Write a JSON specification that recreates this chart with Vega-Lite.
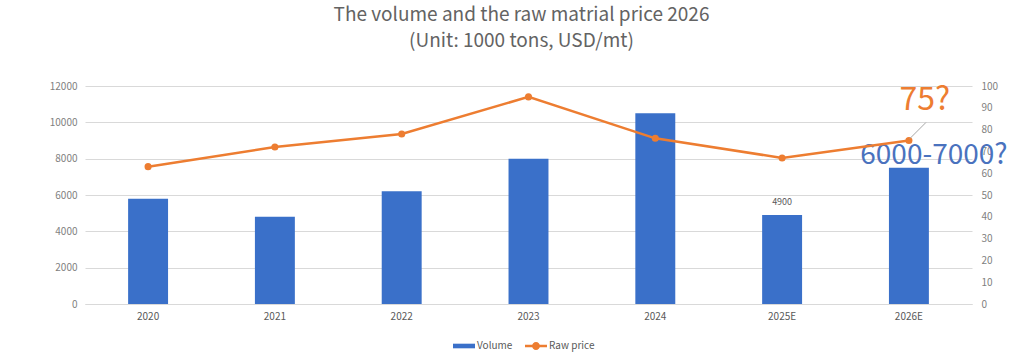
{
  "$schema": "https://vega.github.io/schema/vega-lite/v6.json",
  "width": 887,
  "height": 218,
  "autosize": {"type": "none"},
  "padding": {"left": 85, "top": 86, "right": 52, "bottom": 51},
  "background": "white",
  "config": {
    "font": "Noto Sans CJK SC",
    "view": {"stroke": null},
    "axis": {"labelFont": "Noto Sans CJK SC", "labelFontSize": 10, "labelColor": "#7f7f7f"}
  },
  "title": {
    "text": ["The volume and the raw matrial price 2026", "(Unit: 1000 tons, USD/mt)"],
    "anchor": "middle",
    "dx": -7,
    "offset": 30,
    "fontSize": 19,
    "lineHeight": 26,
    "fontWeight": "normal",
    "color": "#636363",
    "font": "Noto Sans CJK SC"
  },
  "data": {
    "values": [
      {"year": "2020", "volume": 5800, "price": 63},
      {"year": "2021", "volume": 4800, "price": 72},
      {"year": "2022", "volume": 6200, "price": 78},
      {"year": "2023", "volume": 8000, "price": 95},
      {"year": "2024", "volume": 10500, "price": 76},
      {"year": "2025E", "volume": 4900, "price": 67},
      {"year": "2026E", "volume": 7500, "price": 75}
    ]
  },
  "encoding": {
    "x": {
      "field": "year",
      "type": "nominal",
      "sort": null,
      "scale": {"paddingInner": 0.685, "paddingOuter": 0.34},
      "axis": {"title": null, "labelAngle": 0, "ticks": false, "domainColor": "#d9d9d9", "labelColor": "#595959", "labelPadding": 7}
    }
  },
  "layer": [
    {
      "encoding": {
        "y": {
          "field": "volume",
          "type": "quantitative",
          "scale": {"domain": [0, 12000], "nice": false},
          "axis": {"title": null, "values": [0, 2000, 4000, 6000, 8000, 10000, 12000], "format": "d", "grid": true, "gridColor": "#d9d9d9", "domain": false, "ticks": false, "labelPadding": 8}
        }
      },
      "layer": [
        {
          "mark": {"type": "bar", "color": "#3A70C9"},
          "encoding": {
            "color": {
              "datum": "Volume",
              "scale": {"domain": ["Volume", "Raw price"], "range": ["#3A70C9", "#ED7D31"]},
              "legend": {
                "title": null,
                "orient": "none",
                "direction": "horizontal",
                "legendX": 368,
                "legendY": 249,
                "symbolSize": 484,
                "labelFontSize": 10,
                "labelColor": "#595959",
                "labelFont": "Noto Sans CJK SC",
                "labelOffset": 2,
                "columnPadding": 12,
                "encode": {
                  "symbols": {
                    "update": {
                      "shape": [
                        {"test": "datum.value === 'Volume'", "value": "M-1,-0.21L1,-0.21L1,0.21L-1,0.21Z"},
                        {"value": "M-1,-0.12L-0.3,-0.12L-0.3,0.12L-1,0.12Z M0.3,-0.12L1,-0.12L1,0.12L0.3,0.12Z M-0.36,0A0.36,0.36 0 1,1 0.36,0A0.36,0.36 0 1,1 -0.36,0Z"}
                      ],
                      "fill": {"scale": "color", "field": "value"},
                      "fillOpacity": {"value": 1},
                      "strokeWidth": {"value": 0},
                      "opacity": {"value": 1}
                    }
                  }
                }
              }
            }
          }
        },
        {
          "transform": [{"filter": "datum.year === '2025E'"}],
          "mark": {"type": "text", "dy": -8, "baseline": "bottom", "fontSize": 9, "color": "#595959"},
          "encoding": {"text": {"field": "volume", "type": "quantitative", "format": "d"}}
        },
        {
          "transform": [{"filter": "datum.year === '2026E'"}],
          "mark": {"type": "text", "dx": 25, "dy": -4, "baseline": "alphabetic", "align": "center", "fontSize": 28, "color": "#4A72BE"},
          "encoding": {"text": {"value": "6000-7000?"}}
        }
      ]
    },
    {
      "encoding": {
        "y": {
          "field": "price",
          "type": "quantitative",
          "scale": {"domain": [0, 100], "nice": false},
          "axis": {"title": null, "orient": "right", "values": [0, 10, 20, 30, 40, 50, 60, 70, 80, 90, 100], "grid": false, "domain": false, "ticks": false, "labelPadding": 9}
        }
      },
      "layer": [
        {
          "mark": {"type": "line", "strokeWidth": 2.5, "point": {"filled": true, "size": 50}},
          "encoding": {"color": {"datum": "Raw price"}}
        },
        {
          "transform": [{"filter": "datum.year === '2026E'"}],
          "mark": {"type": "rule", "color": "#a6a6a6", "strokeWidth": 1, "xOffset": 1, "x2Offset": 17, "yOffset": -2, "y2Offset": -18},
          "encoding": {"x2": {"field": "year"}, "y2": {"field": "price"}}
        },
        {
          "transform": [{"filter": "datum.year === '2026E'"}],
          "mark": {"type": "text", "dx": 16, "dy": -31, "baseline": "alphabetic", "align": "center", "fontSize": 32, "color": "#ED7D31"},
          "encoding": {"text": {"value": "75?"}}
        }
      ]
    }
  ],
  "resolve": {"scale": {"y": "independent"}}
}
